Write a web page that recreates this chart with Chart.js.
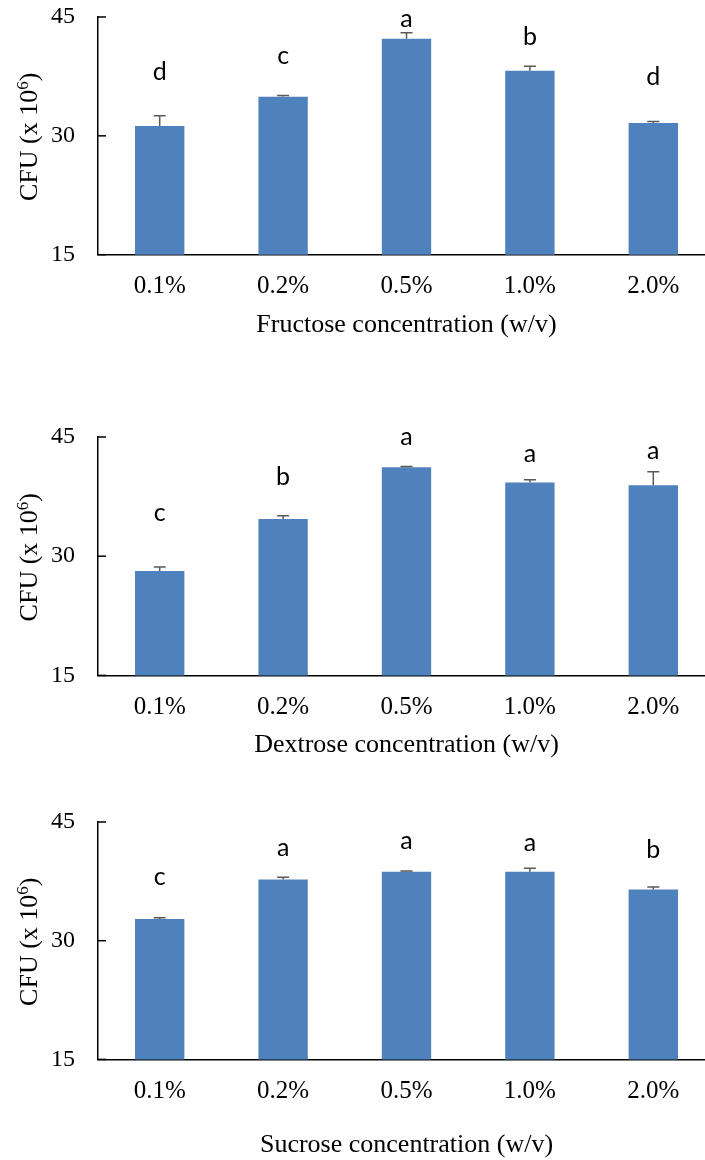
<!DOCTYPE html>
<html>
<head>
<meta charset="utf-8">
<script src="https://cdn.jsdelivr.net/npm/chart.js@4.4.1/dist/chart.umd.min.js"></script>
<style>
  html, body { margin: 0; padding: 0; background: #fff; overflow: hidden; width: 705px; height: 1160px; }
  .box { position: absolute; left: 0; width: 716px; }
</style>
</head>
<body>
<div class="box" style="top:0px;height:341px"><canvas id="fructose" width="716" height="341"></canvas></div>
<div class="box" style="top:420px;height:341px"><canvas id="dextrose" width="716" height="341"></canvas></div>
<div class="box" style="top:805px;height:356px"><canvas id="sucrose" width="716" height="356"></canvas></div>
<script>
// categories
const concLabels = ['0.1%', '0.2%', '0.5%', '1.0%', '2.0%'];
const yTicks = [15, 30, 45];

// Fructose
const fructoseMean = [31.24, 34.95, 42.27, 38.23, 31.62];
const fructoseErr = [1.3, 0.15, 0.75, 0.55, 0.2];
const fructoseLetters = ['d', 'c', 'a', 'b', 'd'];
const fructoseLetterY = [37.0, 39.03, 43.7, 41.52, 36.37];

// Dextrose
const dextroseMean = [28.15, 34.68, 41.2, 39.27, 38.94];
const dextroseErr = [0.5, 0.42, 0.1, 0.35, 1.7];
const dextroseLetters = ['c', 'b', 'a', 'a', 'a'];
const dextroseLetterY = [34.38, 39.02, 43.95, 41.89, 42.18];

// Sucrose
const sucroseMean = [32.74, 37.73, 38.7, 38.7, 36.46];
const sucroseErr = [0.17, 0.3, 0.1, 0.47, 0.34];
const sucroseLetters = ['c', 'a', 'a', 'a', 'b'];
const sucroseLetterY = [37.05, 40.73, 41.58, 41.36, 40.44];

Chart.defaults.font.family = "'Liberation Serif', 'Times New Roman', serif";
Chart.defaults.color = '#000';

// error bars, letters, inward ticks and the y title
function makeExtras(means, errs, letters, letterY) {
    return {
        id: 'extras',
        afterDatasetsDraw(chart) {
            const ctx = chart.ctx;
            const x = chart.scales.x;
            const y = chart.scales.y;
            const area = chart.chartArea;
            const meta = chart.getDatasetMeta(0);

            ctx.save();
            // error bars (upper only)
            ctx.strokeStyle = '#595959';
            ctx.lineWidth = 1.5;
            meta.data.forEach((bar, i) => {
                const top = y.getPixelForValue(means[i] + errs[i]);
                const base = y.getPixelForValue(means[i]);
                ctx.beginPath();
                ctx.moveTo(bar.x, base);
                ctx.lineTo(bar.x, top);
                ctx.moveTo(bar.x - 6, top);
                ctx.lineTo(bar.x + 6, top);
                ctx.stroke();
            });

            // significance letters
            ctx.fillStyle = '#000';
            ctx.font = "25px Lato, 'Open Sans', sans-serif";
            ctx.textAlign = 'center';
            ctx.textBaseline = 'alphabetic';
            letters.forEach((l, i) => {
                ctx.fillText(l, x.getPixelForValue(i), y.getPixelForValue(letterY[i]));
            });

            // tick marks pointing inward
            ctx.strokeStyle = '#000';
            ctx.lineWidth = 1.5;
            yTicks.forEach(v => {
                const py = y.getPixelForValue(v);
                ctx.beginPath();
                ctx.moveTo(area.left, py);
                ctx.lineTo(area.left + 8, py);
                ctx.stroke();
            });

            // y title with superscript
            ctx.translate(29, (area.top + area.bottom) / 2 + 1);
            ctx.rotate(-Math.PI / 2);
            const big = "26px 'Liberation Serif', serif";
            const small = "17px 'Liberation Serif', serif";
            ctx.font = big;
            const w1 = ctx.measureText('CFU (x 10').width;
            const w3 = ctx.measureText(')').width;
            ctx.font = small;
            const w2 = ctx.measureText('6').width;
            let sx = -(w1 + w2 + w3) / 2;
            ctx.textAlign = 'left';
            ctx.font = big;
            ctx.fillText('CFU (x 10', sx, 8);
            ctx.font = small;
            ctx.fillText('6', sx + w1, -1);
            ctx.font = big;
            ctx.fillText(')', sx + w1 + w2, 8);
            ctx.restore();
        }
    };
}

function makeChart(id, means, errs, letters, letterY, xTitle, xHeight) {
    return new Chart(document.getElementById(id), {
        type: 'bar',
        data: {
            labels: concLabels,
            datasets: [{
                data: means,
                backgroundColor: '#4F81BD',
                borderWidth: 0,
                categoryPercentage: 1,
                barPercentage: 0.4
            }]
        },
        options: {
            responsive: false,
            animation: false,
            layout: { padding: { top: 17, right: 1, left: 0, bottom: 0 } },
            plugins: { legend: { display: false }, tooltip: { enabled: false } },
            scales: {
                x: {
                    grid: { display: false, drawTicks: false },
                    border: { display: true, color: '#000', width: 1.5 },
                    ticks: { padding: 17, font: { size: 25 }, color: '#000' },
                    title: { display: true, text: xTitle, font: { size: 26 }, color: '#000', padding: 0 },
                    afterFit: s => { s.height = xHeight; }
                },
                y: {
                    min: 15,
                    max: 45,
                    grid: { display: false, drawTicks: false },
                    border: { display: true, color: '#000', width: 1.5 },
                    ticks: { stepSize: 15, padding: 23, font: { size: 24 }, color: '#000' },
                    afterFit: s => { s.width = 98; s.paddingTop = 0; s.paddingBottom = 0; }
                }
            }
        },
        plugins: [makeExtras(means, errs, letters, letterY)]
    });
}

makeChart('fructose', fructoseMean, fructoseErr, fructoseLetters, fructoseLetterY, 'Fructose concentration (w/v)', 86.3);
makeChart('dextrose', dextroseMean, dextroseErr, dextroseLetters, dextroseLetterY, 'Dextrose concentration (w/v)', 85.6);
makeChart('sucrose', sucroseMean, sucroseErr, sucroseLetters, sucroseLetterY, 'Sucrose concentration (w/v)', 101.6);
</script>
</body>
</html>
